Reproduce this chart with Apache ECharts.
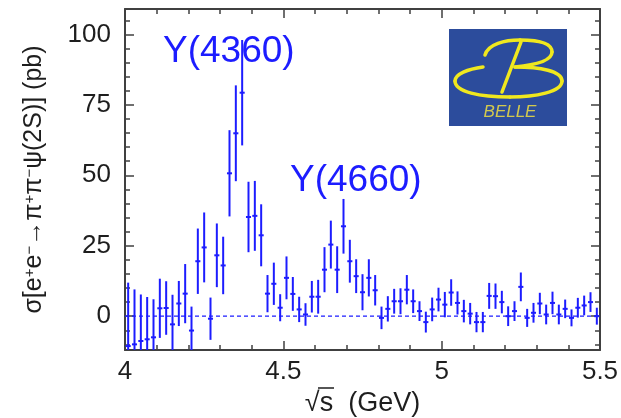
<!DOCTYPE html>
<html>
<head>
<meta charset="utf-8">
<script src="https://cdn.jsdelivr.net/npm/echarts@6.0.0/dist/echarts.min.js"></script>
<style>
  html, body { margin: 0; padding: 0; background: #fff; }
  #chart { width: 621px; height: 418px; }
</style>
</head>
<body>
<div id="chart"></div>
<script>
// Bin centres (GeV)
const energies = [
  4.01, 4.03, 4.05, 4.07, 4.09, 4.11, 4.13, 4.15, 4.17, 4.19,
  4.21, 4.23, 4.25, 4.27, 4.29, 4.31, 4.33, 4.35, 4.37, 4.39,
  4.41, 4.43, 4.45, 4.47, 4.49, 4.51, 4.53, 4.55, 4.57, 4.59,
  4.61, 4.63, 4.65, 4.67, 4.69, 4.71, 4.73, 4.75, 4.77, 4.79,
  4.81, 4.83, 4.85, 4.87, 4.89, 4.91, 4.93, 4.95, 4.97, 4.99,
  5.01, 5.03, 5.05, 5.07, 5.09, 5.11, 5.13, 5.15, 5.17, 5.19,
  5.21, 5.23, 5.25, 5.27, 5.29, 5.31, 5.33, 5.35, 5.37, 5.39,
  5.41, 5.43, 5.45, 5.47, 5.49
];
// Cross section (pb)
const xsec = [
  -10.6, -10.0, -8.8, -8.2, -7.5, 2.8, 2.9, -2.9, 4.5, 8.0,
  -5.1, 19.5, 24.4, -0.9, 21.6, 18.0, 50.7, 64.9, 79.3, 35.2,
  35.6, 28.7, 8.0, 11.5, 3.0, 13.6, 7.9, 2.4, 0.6, 6.9,
  6.9, 16.5, 25.4, 16.5, 31.9, 19.5, 14.2, 8.5, 13.6, 9.2,
  -0.6, 2.6, 5.3, 5.3, 9.4, 5.3, 1.8, -2.1, 2.4, 5.9,
  4.1, 8.4, 4.7, 1.8, 0.9, -2.1, -2.1, 7.2, 7.1, 5.0,
  0.0, 1.8, 10.4, -0.6, 1.2, 4.5, 0.6, 4.7, 0.6, 2.6,
  -0.6, 3.0, 3.8, 5.0, 0.0
];
// Symmetric uncertainties (pb)
const xsecErr = [
  22.5, 19.5, 16.5, 15.0, 13.5, 10.5, 9.5, 10.5, 8.0, 10.5,
  8.5, 11.6, 12.4, 7.5, 11.3, 10.2, 15.3, 17.0, 18.7, 12.5,
  12.4, 11.0, 6.6, 7.5, 4.8, 7.6, 6.0, 4.5, 4.0, 5.6,
  6.0, 8.0, 8.5, 8.3, 9.7, 7.6, 6.0, 6.4, 6.6, 5.4,
  4.0, 4.5, 4.4, 4.6, 5.2, 4.2, 3.5, 3.7, 4.2, 4.2,
  4.5, 4.7, 4.1, 4.0, 3.8, 3.6, 3.6, 4.6, 4.5, 4.0,
  3.5, 3.5, 5.1, 3.2, 3.5, 3.8, 3.5, 4.0, 3.5, 3.3,
  3.0, 3.5, 3.5, 3.5, 3.0
];
const xTicks = [4, 4.5, 5, 5.5];
const yTicks = [0, 25, 50, 75, 100];
const yMinorTicks = [-10, -5, 5, 10, 15, 20, 30, 35, 40, 45, 55, 60, 65, 70, 80, 85, 90, 95, 105];
const peakNames = ['Y(4360)', 'Y(4660)'];

const BLUE = '#1c1cff';
const AXIS = '#404040';
const TEXT = '#1e1e1e';
const FONT = '"Liberation Sans", Arial, Helvetica, sans-serif';
const HALF_BIN = 0.008;
const LOGO_BG = '#2c4c9c';
const LOGO_FG = '#f0e81e';

const points = energies.map((e, i) => [e, xsec[i], xsecErr[i]]);

function renderErrorBar(params, api) {
  const e = api.value(0), v = api.value(1), err = api.value(2);
  const top = api.coord([e, v + err]);
  const bot = api.coord([e, v - err]);
  const l = api.coord([e - HALF_BIN, v]);
  const r = api.coord([e + HALF_BIN, v]);
  const style = { stroke: BLUE, lineWidth: 2 };
  return {
    type: 'group',
    children: [
      { type: 'line', shape: { x1: top[0], y1: top[1], x2: bot[0], y2: bot[1] }, style: style },
      { type: 'line', shape: { x1: l[0], y1: l[1], x2: r[0], y2: r[1] }, style: style }
    ]
  };
}

const lineStyle = { color: AXIS, width: 2 };
const tickStyle = { color: AXIS, width: 1.5 };

function xAxisDef(pos, labels) {
  return {
    type: 'value', min: xTicks[0], max: xTicks[xTicks.length - 1], interval: 0.5,
    position: pos,
    axisLine: { show: true, onZero: false, lineStyle: lineStyle },
    axisTick: { show: true, inside: true, length: 9, lineStyle: tickStyle },
    minorTick: { show: true, splitNumber: 5, length: 5, lineStyle: tickStyle },
    splitLine: { show: false },
    axisLabel: labels
      ? { show: true, fontSize: 26, color: TEXT, fontFamily: FONT, margin: 9, showMinLabel: true, showMaxLabel: true }
      : { show: false }
  };
}

function yAxisDef(pos, major, labels) {
  return {
    type: 'value', min: -12, max: 109,
    position: pos,
    axisLine: { show: major, onZero: false, lineStyle: lineStyle },
    axisTick: { show: true, inside: true, length: major ? 9 : 5, lineStyle: tickStyle,
                customValues: major ? yTicks : yMinorTicks },
    splitLine: { show: false },
    axisLabel: labels
      ? { show: true, customValues: yTicks, fontSize: 26, color: TEXT, fontFamily: FONT, margin: 14 }
      : { show: false }
  };
}

const xMain = xAxisDef('bottom', true);
xMain.name = '\u221As  (GeV)';
xMain.nameLocation = 'middle';
xMain.nameGap = 35;
xMain.nameTextStyle = { fontSize: 27, color: TEXT, fontFamily: FONT };

const yMain = yAxisDef('left', true, true);
yMain.name = '\u03C3[e{s|+}e{s|\u2212}\u2192\u03C0{s|+}\u03C0{s|\u2212}\u03C8(2S)] (pb)';
yMain.nameLocation = 'middle';
yMain.nameRotate = 90;
yMain.nameGap = 78;
yMain.nameTextStyle = {
  fontSize: 25, color: TEXT, fontFamily: FONT,
  rich: { s: { fontSize: 15, color: TEXT, fontFamily: FONT, verticalAlign: 'top', lineHeight: 15 } }
};

// Belle logo: script "B" drawn as a chain of cubic curves plus the stem
const logoCurves = [
  [485, 55, 488, 44, 505, 40, 520, 40],
  [520, 40, 538, 40, 552, 43, 552, 52],
  [552, 52, 552, 61, 535, 65, 515, 67],
  [515, 67, 540, 67, 562, 71, 562, 81],
  [562, 81, 562, 92, 535, 97, 510, 97],
  [510, 97, 480, 97, 455, 92, 455, 81],
  [455, 81, 455, 74, 468, 69, 483, 67]
].map(c => ({
  type: 'bezierCurve',
  shape: { x1: c[0], y1: c[1], cpx1: c[2], cpy1: c[3], cpx2: c[4], cpy2: c[5], x2: c[6], y2: c[7] },
  style: { fill: null, stroke: LOGO_FG, lineWidth: 3.5, lineCap: 'round' }
}));

const chart = echarts.init(document.getElementById('chart'), null, { renderer: 'canvas' });
chart.setOption({
  animation: false,
  backgroundColor: '#ffffff',
  grid: { left: 125, right: 21, top: 9, bottom: 68, containLabel: false, outerBoundsMode: 'none' },
  xAxis: [xMain, xAxisDef('top', false)],
  yAxis: [
    yMain,
    yAxisDef('left', false, false),
    yAxisDef('right', true, false),
    yAxisDef('right', false, false)
  ],
  series: [
    {
      type: 'line', xAxisIndex: 0, yAxisIndex: 0,
      data: [[xTicks[0], 0], [xTicks[xTicks.length - 1], 0]],
      symbol: 'none', silent: true, z: 1,
      lineStyle: { color: BLUE, width: 1.2, type: [4, 3] }
    },
    {
      type: 'custom', xAxisIndex: 0, yAxisIndex: 0,
      data: points, renderItem: renderErrorBar, clip: true, z: 2, silent: true
    }
  ],
  graphic: [
    { type: 'text', x: 163, y: 33, z: 10,
      style: { text: peakNames[0], fill: BLUE, font: '37px ' + FONT } },
    { type: 'text', x: 290, y: 162, z: 10,
      style: { text: peakNames[1], fill: BLUE, font: '37px ' + FONT } },
    // radical bar over "s" in the axis title
    { type: 'line', z: 10, shape: { x1: 318, y1: 388, x2: 334, y2: 388 },
      style: { stroke: TEXT, lineWidth: 1.5 } },
    { type: 'rect', z: 10, shape: { x: 449, y: 29, width: 118, height: 97 },
      style: { fill: LOGO_BG } }
  ].concat(logoCurves.map(c => Object.assign({ z: 11 }, c))).concat([
    { type: 'line', z: 11, shape: { x1: 521, y1: 42, x2: 502, y2: 92 },
      style: { stroke: LOGO_FG, lineWidth: 3.5, lineCap: 'round' } },
    { type: 'text', x: 510, y: 112, z: 11,
      style: { text: 'BELLE', fill: '#d2c94e', font: 'italic 17px ' + FONT,
               align: 'center', verticalAlign: 'middle' } }
  ])
});
</script>
</body>
</html>
